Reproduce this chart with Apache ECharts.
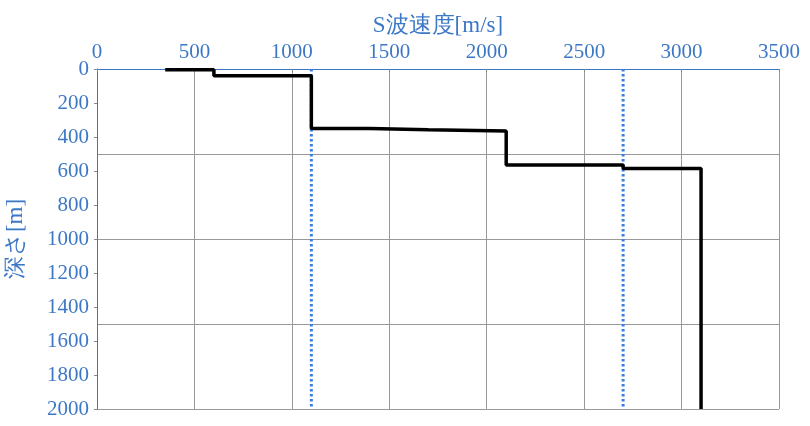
<!DOCTYPE html>
<html><head><meta charset="utf-8">
<script src="https://cdn.jsdelivr.net/npm/echarts@6/dist/echarts.min.js"></script>
<style>html,body{margin:0;padding:0;background:#fff}#c{width:810px;height:426px}</style>
</head><body><div id="c"></div>
<script>
const velocity = [350, 600, 600, 1100, 1100, 1400, 1400, 1700, 1700, 2100, 2100, 2700, 2700, 3100, 3100];
const depth    = [5,   5,   40,  40,   350,  350,  357,  357,  365,  365,  565,  565,  585,  585,  2000];
const refLines = [1100, 2700];
const xTitle = 'S波速度[m/s]';
const yTitle = '深さ[m]';
const blue = '#3d78c6';
const font = 'Liberation Serif';
const chart = echarts.init(document.getElementById('c'));
chart.setOption({
  animation: false,
  grid: {left: 97, right: 31, top: 69, bottom: 17, containLabel: false, outerBoundsMode: 'none'},
  xAxis: {
    type: 'value', position: 'top', min: 0, max: 3500, interval: 500,
    name: xTitle, nameLocation: 'middle', nameGap: 32,
    nameTextStyle: {color: blue, fontSize: 23, fontFamily: font},
    axisLine: {lineStyle: {color: blue, width: 1}},
    axisTick: {show: true, inside: true, length: 3, lineStyle: {color: '#888'}},
    axisLabel: {color: blue, fontSize: 21, fontFamily: font, margin: 6, formatter: v => String(v)},
    splitLine: {lineStyle: {color: '#999', width: 1}}
  },
  yAxis: [{
    type: 'value', inverse: true, min: 0, max: 2000, interval: 200,
    name: yTitle, nameLocation: 'middle', nameGap: 70,
    nameTextStyle: {color: blue, fontSize: 23, fontFamily: font},
    axisLine: {show: true, lineStyle: {color: blue, width: 1}},
    axisTick: {show: true, length: 3, lineStyle: {color: '#888'}},
    axisLabel: {color: blue, fontSize: 21, fontFamily: font, margin: 8, formatter: v => String(v)},
    splitLine: {show: false}
  }, {
    type: 'value', inverse: true, min: 0, max: 2000, interval: 500,
    position: 'left', show: true,
    axisLine: {show: false}, axisTick: {show: false}, axisLabel: {show: false},
    splitLine: {lineStyle: {color: '#999', width: 1}}
  }],
  series: [
    ...refLines.map(v => ({
      type: 'line', yAxisIndex: 0, symbol: 'none',
      data: [[v, 0], [v, 2000]],
      lineStyle: {color: '#3a7ee0', width: 3, type: [2.5, 2.5]}
    })),
    {
      type: 'line', yAxisIndex: 0, symbol: 'none',
      data: velocity.map((v, i) => [v, depth[i]]),
      lineStyle: {color: '#000', width: 3.5}, z: 5
    }
  ]
});
</script></body></html>
